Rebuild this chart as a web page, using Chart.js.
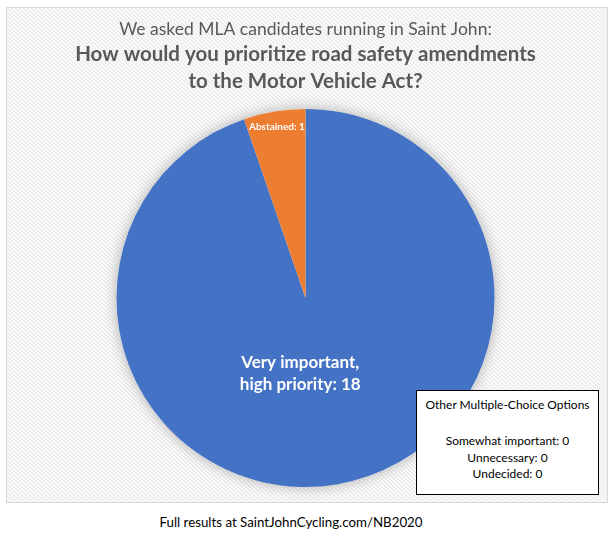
<!DOCTYPE html>
<html>
<head>
<meta charset="utf-8">
<script src="https://cdn.jsdelivr.net/npm/chart.js@4"></script>
<style>
    body { margin: 0; background: #fff; width: 615px; height: 545px; position: relative; font-family: Lato, "Open Sans", sans-serif; }
    #frame { position: absolute; left: 6px; top: 7px; width: 600px; height: 494px; border: 1px solid #d9d9d9; }
    #frame canvas { display: block; }
    #others { position: absolute; left: 416px; top: 390px; width: 183px; height: 105px; border: 1px solid #000; background: #fff;
              text-align: center; font-size: 12px; color: #000; box-sizing: border-box; }
    #others .head { margin-top: 6px; }
    #others .list { margin-top: 21px; line-height: 16.5px; }
    #footer { position: absolute; left: 0; width: 582px; top: 514px; text-align: center; font-size: 13.3px; color: #000; }
</style>
</head>
<body>
<div id="frame"><canvas id="chart" width="600" height="494"></canvas></div>
<div id="others"></div>
<div id="footer"></div>
<script>
const titleLine = 'We asked MLA candidates running in Saint John:';
const questionLines = ['How would you prioritize road safety amendments', 'to the Motor Vehicle Act?'];
const labels = ['Very important, high priority', 'Abstained'];
const counts = [18, 1];
const colors = ['#4472C4', '#ED7D31'];
const otherTitle = 'Other Multiple-Choice Options';
const otherLabels = ['Somewhat important', 'Unnecessary', 'Undecided'];
const otherCounts = [0, 0, 0];
const footerText = 'Full results at SaintJohnCycling.com/NB2020';

document.getElementById('others').innerHTML =
    '<div class="head">' + otherTitle + '</div><div class="list">' +
    otherLabels.map((l, i) => l + ': ' + otherCounts[i]).join('<br>') + '</div>';
document.getElementById('footer').textContent = footerText;

// stripes in the background, like the office template
function stripePattern(ctx) {
    const p = document.createElement('canvas');
    p.width = 4; p.height = 4;
    const c = p.getContext('2d');
    c.fillStyle = '#f9f9f9';
    c.fillRect(0, 0, 4, 4);
    c.strokeStyle = '#e4e4e4';
    c.lineWidth = 1;
    c.beginPath();
    c.moveTo(0, 0); c.lineTo(4, 4);
    c.moveTo(-1, 3); c.lineTo(1, 5);
    c.moveTo(3, -1); c.lineTo(5, 1);
    c.stroke();
    return ctx.createPattern(p, 'repeat');
}

const backgroundPlugin = {
    id: 'bg',
    beforeDraw(chart) {
        const ctx = chart.ctx;
        ctx.save();
        ctx.fillStyle = stripePattern(ctx);
        ctx.fillRect(0, 0, chart.width, chart.height);
        ctx.restore();
    },
    beforeDatasetsDraw(chart) {
        const arc = chart.getDatasetMeta(0).data[0];
        const ctx = chart.ctx;
        ctx.save();
        ctx.shadowColor = 'rgba(0,0,0,0.28)';
        ctx.shadowBlur = 14;
        ctx.fillStyle = '#ffffff';
        ctx.beginPath();
        ctx.arc(arc.x, arc.y, arc.outerRadius, 0, Math.PI * 2);
        ctx.fill();
        ctx.restore();
    }
};

// label spots: angle in degrees (null = middle of slice), radius as part of the pie radius
const labelSpots = [{angle: 94, r: 0.4}, {angle: null, r: 0.92}];
const labelFonts = ['bold 17px Lato', 'bold 10px Lato'];
const labelLines = [['Very important,', 'high priority: ' + counts[0]], ['Abstained: ' + counts[1]]];

const labelPlugin = {
    id: 'sliceLabels',
    afterDatasetsDraw(chart) {
        const ctx = chart.ctx;
        chart.getDatasetMeta(0).data.forEach((arc, i) => {
            const spot = labelSpots[i];
            const a = spot.angle === null ? (arc.startAngle + arc.endAngle) / 2 : spot.angle * Math.PI / 180;
            const x = arc.x + Math.cos(a) * arc.outerRadius * spot.r;
            const y = arc.y + Math.sin(a) * arc.outerRadius * spot.r;
            const lines = labelLines[i];
            const lh = i === 0 ? 22 : 12;
            ctx.save();
            ctx.font = labelFonts[i];
            ctx.fillStyle = '#ffffff';
            ctx.textAlign = 'center';
            ctx.textBaseline = 'middle';
            lines.forEach((t, j) => {
                ctx.fillText(t, x, y + (j - (lines.length - 1) / 2) * lh);
            });
            ctx.restore();
        });
    }
};

new Chart(document.getElementById('chart'), {
    type: 'pie',
    data: {
        labels: labels,
        datasets: [{
            data: counts,
            backgroundColor: colors,
            borderWidth: 0
        }]
    },
    options: {
        responsive: false,
        animation: false,
        layout: {
            padding: {top: 0, bottom: 15, left: 0, right: 3}
        },
        plugins: {
            legend: {display: false},
            tooltip: {enabled: false},
            title: {
                display: true,
                text: titleLine,
                color: '#595959',
                font: {family: 'Lato', size: 17.5, weight: 'normal', lineHeight: 1.32},
                padding: {top: 10, bottom: 0}
            },
            subtitle: {
                display: true,
                text: questionLines,
                color: '#595959',
                font: {family: 'Lato', size: 20.5, weight: 'bold', lineHeight: 1.3},
                padding: {top: 0, bottom: 14.5}
            }
        }
    },
    plugins: [backgroundPlugin, labelPlugin]
});
</script>
</body>
</html>
